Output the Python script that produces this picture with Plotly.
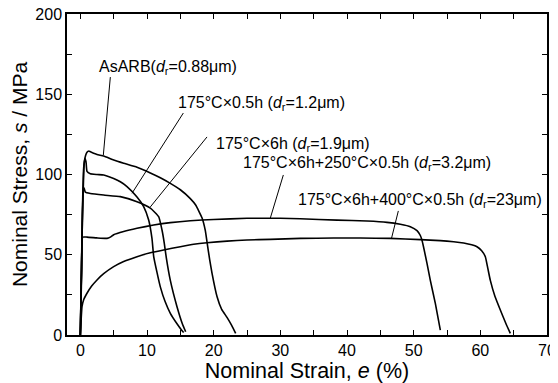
import plotly.graph_objects as go

# ---- data ----
x_asarb = [0, 0.3, 0.5, 0.6, 0.8, 1.0, 1.25, 1.6, 2.5, 3.5, 5, 6.5, 8.5, 10.5, 12, 13.5, 15, 16.5, 17.3, 18.25, 18.75, 19.0, 19.4, 19.75, 20.5, 21.2, 22.0, 22.7, 23.3]
y_asarb = [0, 70, 100, 108, 112, 113.8, 114.6, 114, 112.5, 111.5, 109, 107, 104.5, 101, 98, 94.5, 90.5, 85, 81, 73, 65, 58, 47, 38.6, 24, 16, 11, 6, 1]

x_05h = [0, 0.3, 0.5, 0.7, 0.85, 1.0, 1.5, 2.5, 3.5, 5, 6, 7, 8.5, 9.5, 10.25, 10.75, 11.0, 11.5, 12, 12.7, 13.5, 14.5, 15.2, 15.5]
y_05h = [0, 75, 104, 110, 108, 102, 100.5, 100, 99.7, 97.5, 95.5, 92.5, 86, 80, 71.6, 60, 49, 39, 30, 21, 13.5, 7, 3, 1.5]

x_6h = [0, 0.3, 0.45, 0.6, 0.75, 1.5, 3.5, 6, 8.5, 10.5, 11.75, 12.25, 12.6, 12.9, 13.5, 14.5, 15.3, 15.8]
y_6h = [0, 70, 92, 91, 89, 88.2, 87.2, 86.2, 83, 79, 73.7, 65.4, 57, 48, 34, 17.6, 7, 2]

x_250 = [0, 0.2, 0.35, 1, 2.5, 4.0, 4.5, 5, 6.5, 8.5, 11, 13.5, 16.5, 20, 25, 30, 33, 38.5, 43, 46, 48, 49.5, 50.5, 51.0, 51.25, 52.0, 52.5, 53.25, 54]
y_250 = [0, 40, 61, 61, 60.5, 60.2, 61, 62.5, 64.5, 66.5, 68.5, 70, 71.2, 72, 72.7, 72.7, 72.4, 71.6, 71, 70.2, 69, 67.5, 65, 62, 59, 44.6, 34, 19.7, 3]

x_400 = [0, 0.1, 0.25, 0.5, 1, 1.7, 2.5, 3.5, 5, 6.5, 8.5, 10.5, 12.5, 15, 17, 19, 22, 25, 28.5, 33, 38, 42, 46.5, 51, 54, 56, 57.5, 58.7, 59.5, 60.2, 60.75, 61.1, 61.5, 62.2, 63, 63.8, 64.5]
y_400 = [0, 8, 17.6, 22, 26, 30.5, 34.3, 38.2, 42.6, 45.8, 48.8, 51.2, 53, 55, 56.5, 57.5, 58.5, 59.2, 59.6, 60.2, 60.4, 60.4, 60.2, 59.4, 58.8, 58.1, 57.3, 56.2, 55, 52.5, 48.8, 42, 34, 24, 15.6, 7.5, 1]

labels = [
    "AsARB(<i>d</i><sub>r</sub>=0.88μm)",
    "175°C×0.5h (<i>d</i><sub>r</sub>=1.2μm)",
    "175°C×6h (<i>d</i><sub>r</sub>=1.9μm)",
    "175°C×6h+250°C×0.5h (<i>d</i><sub>r</sub>=3.2μm)",
    "175°C×6h+400°C×0.5h (<i>d</i><sub>r</sub>=23μm)",
]

x_ticks = [0, 10, 20, 30, 40, 50, 60, 70]
y_ticks = [0, 50, 100, 150, 200]

FONT = "Liberation Sans, Arial, sans-serif"

fig = go.Figure()
for xs, ys in [(x_asarb, y_asarb), (x_05h, y_05h), (x_6h, y_6h), (x_250, y_250), (x_400, y_400)]:
    fig.add_trace(go.Scatter(x=xs, y=ys, mode="lines",
                             line=dict(color="black", width=1.6, shape="spline", smoothing=0.4),
                             showlegend=False, hoverinfo="skip"))

# label positions (data coords) and leader lines
label_pos = [(13.2, 166.4), (27.1, 144.0), (31.9, 118.6), (43.0, 107.0), (50.9, 83.5)]
leaders = [((4.5, 160.7), (3.45, 112.1)),
           ((15.45, 138.3), (7.75, 88.3)),
           ((19.0, 123.4), (10.5, 79.8)),
           ((30.45, 99.7), (28.5, 72.9)),
           ((47.7, 77.3), (46.65, 59.8))]

for txt, (lx, ly) in zip(labels, label_pos):
    fig.add_annotation(x=lx, y=ly, text=txt, showarrow=False, xanchor="center", yanchor="middle",
                       font=dict(family=FONT, size=16, color="black"))
for (a, b) in leaders:
    fig.add_shape(type="line", x0=a[0], y0=a[1], x1=b[0], y1=b[1],
                  line=dict(color="black", width=1))

axis_common = dict(showline=True, linecolor="black", linewidth=1.5, mirror="allticks",
                   ticks="inside", ticklen=5, tickwidth=1.2, tickcolor="black",
                   showgrid=False, zeroline=False, automargin=False,
                   ticklabeloverflow="allow",
                   tickfont=dict(family=FONT, size=16, color="black"))

fig.update_xaxes(range=[-2, 70], tickvals=x_ticks,
                 minor=dict(dtick=5, tick0=0, ticks="inside", ticklen=5, tickcolor="black", tickwidth=1.2),
                 title=dict(text="Nominal Strain, <i>e</i> (%)", font=dict(family=FONT, size=21.5, color="black"),
                            standoff=0),
                 **axis_common)
fig.update_yaxes(range=[0, 200], tickvals=y_ticks,
                 minor=dict(dtick=25, tick0=0, ticks="inside", ticklen=5, tickcolor="black", tickwidth=1.2),
                 title=dict(text="Nominal Stress, <i>s</i> / MPa", font=dict(family=FONT, size=21, color="black"),
                            standoff=4),
                 **axis_common)

# page body has an 8px default margin; size the figure so it fits the 558x383 window
fig.update_layout(width=550, height=375, margin=dict(l=59, r=11, t=6, b=48),
                  plot_bgcolor="white", paper_bgcolor="white")

fig.write_html("out.html")
